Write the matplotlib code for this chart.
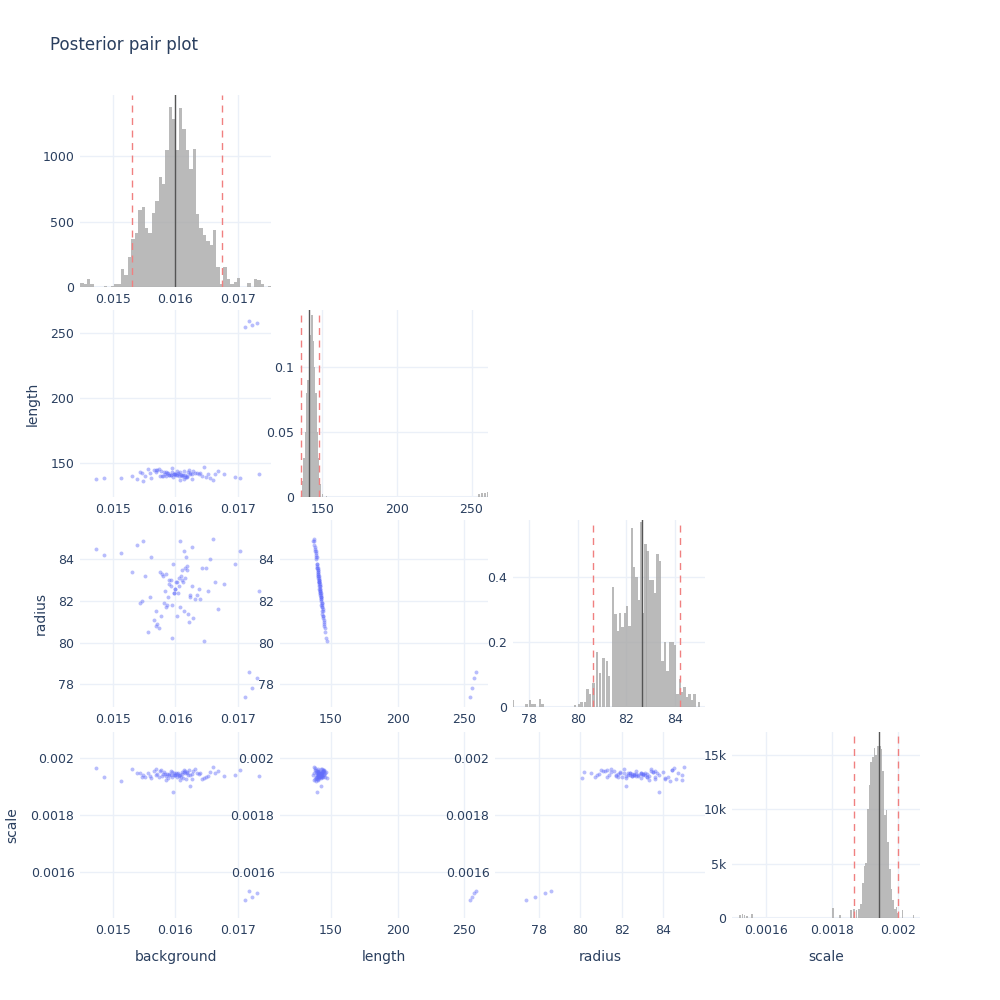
import numpy as np
import matplotlib
matplotlib.use("Agg")
import matplotlib.pyplot as plt

# posterior samples (one row per sample, last four are the far-off outliers)
background = [
    0.01602, 0.01585, 0.01618, 0.01561, 0.01634, 0.01597, 0.01577, 0.01649, 0.01611, 0.01543,
    0.01626, 0.01592, 0.01668, 0.01605, 0.01531, 0.01573, 0.01615, 0.01588, 0.01656, 0.01599,
    0.01622, 0.01551, 0.01640, 0.01608, 0.01583, 0.01695, 0.01569, 0.01612, 0.01594, 0.01637,
    0.01512, 0.01604, 0.01579, 0.01628, 0.01590, 0.01660, 0.01546, 0.01619, 0.01600, 0.01566,
    0.01642, 0.01587, 0.01613, 0.01678, 0.01556, 0.01596, 0.01624, 0.01581, 0.01609, 0.01538,
    0.01652, 0.01593, 0.01617, 0.01571, 0.01606, 0.01631, 0.01486, 0.01598, 0.01620, 0.01575,
    0.01645, 0.01589, 0.01610, 0.01559, 0.01703, 0.01603, 0.01627, 0.01584, 0.01614, 0.01548,
    0.01663, 0.01595, 0.01616, 0.01568, 0.01601, 0.01733, 0.01472, 0.01623, 0.01580, 0.01607,
    0.01712, 0.01722, 0.01730, 0.01718]
length = [
    141.2, 143.0, 140.1, 138.6, 142.4, 141.8, 144.1, 139.5, 141.0, 142.9,
    137.8, 140.6, 143.6, 141.5, 139.9, 145.2, 140.8, 142.1, 138.9, 141.3,
    144.7, 140.3, 142.7, 137.2, 141.9, 139.2, 143.3, 140.9, 146.1, 141.6,
    138.3, 142.2, 140.4, 143.9, 141.1, 136.9, 142.5, 139.7, 141.7, 144.4,
    140.0, 142.8, 138.1, 141.4, 145.6, 139.4, 141.8, 143.1, 140.7, 137.5,
    142.0, 141.2, 139.1, 144.9, 140.5, 142.6, 138.7, 141.9, 143.5, 140.2,
    147.3, 141.0, 139.8, 142.3, 138.4, 144.0, 141.6, 140.1, 143.8, 136.6,
    141.3, 142.9, 139.6, 145.0, 140.8, 141.5, 138.0, 142.4, 140.4, 143.2,
    254.5, 256.0, 257.5, 259.0]
radius = [
    82.9, 81.7, 83.5, 84.1, 82.3, 82.4, 81.3, 83.6, 83.0, 81.9,
    84.6, 83.0, 81.6, 82.7, 83.4, 80.7, 83.1, 82.2, 84.0, 82.6,
    81.0, 83.2, 82.1, 84.9, 82.5, 83.8, 81.5, 82.9, 80.2, 82.6,
    84.3, 82.4, 83.3, 81.2, 82.8, 85.0, 82.0, 83.7, 82.6, 81.1,
    83.6, 81.8, 84.4, 82.8, 80.5, 83.8, 82.3, 81.9, 83.2, 84.7,
    82.5, 82.7, 84.1, 80.9, 83.1, 82.1, 84.2, 82.4, 81.4, 83.4,
    80.1, 83.0, 83.5, 82.2, 84.4, 81.3, 82.7, 83.3, 81.5, 84.9,
    82.9, 81.8, 83.6, 80.8, 82.9, 82.5, 84.5, 82.2, 83.2, 81.7,
    77.4, 77.8, 78.3, 78.6]
scale = [
    0.001942, 0.001935, 0.001951, 0.001928, 0.001946, 0.001939, 0.001957, 0.001931, 0.001944, 0.001948,
    0.001925, 0.001940, 0.001953, 0.001937, 0.001962, 0.001933, 0.001945, 0.001929, 0.001950, 0.001941,
    0.001956, 0.001934, 0.001947, 0.001922, 0.001943, 0.001938, 0.001959, 0.001930, 0.001949, 0.001944,
    0.001918, 0.001946, 0.001936, 0.001954, 0.001940, 0.001966, 0.001932, 0.001948, 0.001939, 0.001952,
    0.001927, 0.001943, 0.001958, 0.001935, 0.001945, 0.001880, 0.001941, 0.001950, 0.001931, 0.001947,
    0.001937, 0.001955, 0.001926, 0.001944, 0.001940, 0.001961, 0.001933, 0.001946, 0.001938, 0.001953,
    0.001929, 0.001942, 0.001949, 0.001936, 0.001957, 0.001934, 0.001944, 0.001921, 0.001951, 0.001939,
    0.001946, 0.001932, 0.001955, 0.001941, 0.001947, 0.001936, 0.001963, 0.001902, 0.001943, 0.001938,
    0.001500, 0.001512, 0.001525, 0.001532]

# histogram bar centers / heights
bg_hist_x = list(np.round(0.01450 + 0.0000546 * np.arange(56), 6))
bg_hist_y = [30, 20, 60, 20, 0, 0, 0, 5, 0, 10, 20, 20, 140, 90, 230, 370, 410, 590, 610, 450,
             410, 570, 660, 840, 790, 1050, 1380, 1290, 1050, 1370, 1210, 1050, 900, 1060, 560, 450,
             400, 350, 320, 440, 150, 20, 150, 60, 20, 40, 70, 0, 0, 30, 0, 60, 50, 20, 0, 5]
len_hist_x = [136.0, 136.9, 137.8, 138.7, 139.6, 140.5, 141.4, 142.3, 143.2, 144.1, 145.0,
              145.9, 146.8, 147.7, 148.6, 150.2, 153.0, 255.0, 257.0, 259.0, 260.5]
len_hist_y = [0.005, 0.012, 0.03, 0.05, 0.08, 0.09, 0.105, 0.125, 0.14, 0.12, 0.1,
              0.08, 0.05, 0.03, 0.01, 0.002, 0.001, 0.002, 0.003, 0.003, 0.004]
rad_hist_x = [77.35, 77.9, 78.05, 78.15, 78.25, 78.45, 78.55, 79.9, 80.05, 80.15, 80.3, 80.4,
              80.5, 80.66, 80.8, 80.93, 81.07, 81.2, 81.3, 81.45, 81.55, 81.65, 81.75, 81.85,
              81.95, 82.03, 82.13, 82.23, 82.33, 82.42, 82.52, 82.6, 82.7, 82.8, 82.88, 82.98,
              83.08, 83.18, 83.28, 83.4, 83.5, 83.6, 83.7, 83.8, 83.9, 84.0, 84.1, 84.2, 84.3,
              84.4, 84.5, 84.6, 84.7, 84.8, 85.0]
rad_hist_y = [0.02, 0.01, 0.02, 0.01, 0.01, 0.025, 0.01, 0.005, 0.01, 0.015, 0.015, 0.055,
              0.04, 0.075, 0.17, 0.105, 0.15, 0.14, 0.095, 0.37, 0.285, 0.235, 0.29, 0.245,
              0.29, 0.31, 0.25, 0.55, 0.43, 0.40, 0.33, 0.57, 0.29, 0.50, 0.48, 0.39,
              0.39, 0.35, 0.47, 0.45, 0.14, 0.2, 0.11, 0.2, 0.2, 0.19, 0.04, 0.085, 0.045,
              0.06, 0.03, 0.04, 0.02, 0.04, 0.015]
sc_hist_x = [0.001520, 0.001527, 0.001533, 0.001540, 0.001555, 0.001803, 0.001825, 0.001858,
             0.001866, 0.001874, 0.001882] + list(np.round(0.001889 + 0.0000051 * np.arange(23), 7)) \
            + [0.002015, 0.002048]
sc_hist_y = [300, 400, 300, 200, 400, 900, 300, 700, 800, 700, 800,
             1300, 3200, 4800, 5100, 10000, 12200, 14300, 14800, 15600, 15000, 15800, 15800,
             15500, 13500, 9500, 9900, 7000, 4500, 2700, 1700, 800, 1000, 500, 700, 300]

# median and credible interval lines
medians = [0.01600, 141.5, 82.65, 0.001944]
lower = [0.01530, 136.0, 80.65, 0.001866]
upper = [0.01674, 148.0, 84.2, 0.002]

names = ["background", "length", "radius", "scale"]
samples = [background, length, radius, scale]
hists = [(bg_hist_x, bg_hist_y, 0.0000546), (len_hist_x, len_hist_y, 0.9),
         (rad_hist_x, rad_hist_y, 0.1), (sc_hist_x, sc_hist_y, 0.0000051)]
hist_ylim = [1470, 0.144, 0.575, 17100]
hist_yticks = [([0, 500, 1000], ["0", "500", "1000"]),
               ([0, 0.05, 0.1], ["0", "0.05", "0.1"]),
               ([0, 0.2, 0.4], ["0", "0.2", "0.4"]),
               ([0, 5000, 10000, 15000], ["0", "5k", "10k", "15k"])]
hist_xlim = [(0.01447, 0.01753), (135.2, 261), (77.34, 85.24), (0.001495, 0.002068)]
scat_lim = [(0.01447, 0.01753), (111.6, 268), (75.9, 86.0), (0.001438, 0.00209)]
scat_ylim = [None, (124, 267.7), (76.9, 85.9), (0.001438, 0.00209)]
ticks = [([0.015, 0.016, 0.017], ["0.015", "0.016", "0.017"]),
         ([150, 200, 250], ["150", "200", "250"]),
         ([78, 80, 82, 84], ["78", "80", "82", "84"]),
         ([0.0016, 0.0018, 0.002], ["0.0016", "0.0018", "0.002"])]

TXT = "#2a3f5f"
GRID = "#ebf0f8"
cols = [(80, 271), (280, 488), (495, 705), (712, 920)]
diag_cols = [(80, 271), (300, 488), (513, 705), (732, 920)]
rows = [(95, 287), (310, 497), (520, 707), (732, 918)]

fig = plt.figure(figsize=(10, 10), dpi=100)
fig.text(0.05, 0.955, "Posterior pair plot", fontsize=12, color=TXT, va="center")


def make_ax(r, c):
    x0, x1 = diag_cols[c] if r == c else cols[c]
    y0, y1 = rows[r]
    ax = fig.add_axes([x0 / 1000, 1 - y1 / 1000, (x1 - x0) / 1000, (y1 - y0) / 1000])
    for s in ax.spines.values():
        s.set_visible(False)
    ax.tick_params(length=0, labelsize=9, labelcolor=TXT, pad=4)
    ax.grid(True, color=GRID, lw=1)
    ax.set_axisbelow(True)
    return ax


for r in range(4):
    for c in range(r + 1):
        ax = make_ax(r, c)
        if r == c:
            hx, hy, w = hists[r]
            ax.bar(hx, hy, width=w, color="#a9a9a9", alpha=0.8, lw=0)
            ax.axvline(medians[r], color="#555555", lw=1)
            ax.axvline(lower[r], color="#f08080", lw=1, ls=(0, (5, 4)))
            ax.axvline(upper[r], color="#f08080", lw=1, ls=(0, (5, 4)))
            ax.set_xlim(*hist_xlim[r])
            ax.set_ylim(0, hist_ylim[r])
            ax.set_yticks(*hist_yticks[r])
            ax.axhline(0, color=GRID, lw=1.5, zorder=0)
        else:
            ax.scatter(samples[c], samples[r], s=8, color="#636efa", alpha=0.45, lw=0)
            ax.set_xlim(*scat_lim[c])
            ax.set_ylim(*scat_ylim[r])
            ax.set_yticks(*ticks[r])
        ax.set_xticks(*ticks[c])
        if c == 0 and r > 0:
            ax.set_ylabel(names[r], fontsize=10, color=TXT, labelpad=8)
        if r == 3:
            ax.set_xlabel(names[c], fontsize=10, color=TXT, labelpad=10)

fig.savefig("out.png", dpi=100, facecolor="white")
